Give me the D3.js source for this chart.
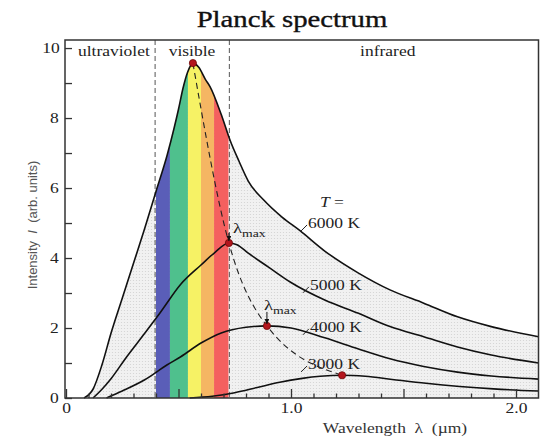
<!DOCTYPE html>
<html>
<head>
<meta charset="utf-8">
<script src="https://cdn.jsdelivr.net/npm/d3@7"></script>
<style>
  body { margin: 0; background: #fff; }
  svg text { font-family: "Liberation Serif", serif; }
  /* the reference text is drawn wide, so stretch serif text sideways */
  .sx { transform-box: fill-box; transform-origin: center; transform: scaleX(1.25); }
  .sxl { transform-box: fill-box; transform-origin: left center; transform: scaleX(1.25); }
</style>
</head>
<body>
<div id="chart"></div>
<script>
/* curves: wavelength (um) and intensity (arb. units) */
const lam6000 = [0.08, 0.12, 0.16, 0.20, 0.25, 0.30, 0.35, 0.40, 0.45, 0.48, 0.50, 0.52, 0.54, 0.564, 0.59, 0.62, 0.64, 0.69, 0.73, 0.77, 0.81, 0.88, 0.96, 1.04, 1.15, 1.30, 1.44, 1.59, 1.74, 1.89, 2.10];
const int6000 = [0, 0.25, 0.95, 1.85, 2.85, 3.85, 4.85, 5.9, 6.95, 7.7, 8.25, 8.85, 9.3, 9.57, 9.45, 9.1, 8.9, 8.1, 7.35, 6.75, 6.2, 5.65, 5.17, 4.78, 4.2, 3.57, 3.09, 2.71, 2.32, 2.04, 1.75];

const lam5000 = [0.12, 0.16, 0.20, 0.27, 0.35, 0.42, 0.51, 0.60, 0.66, 0.724, 0.76, 0.81, 0.90, 1.00, 1.15, 1.30, 1.44, 1.59, 1.74, 1.89, 2.10];
const int5000 = [0, 0.25, 0.55, 1.18, 1.85, 2.45, 3.25, 3.8, 4.15, 4.43, 4.38, 4.14, 3.74, 3.3, 2.8, 2.42, 2.04, 1.75, 1.46, 1.23, 1.0];

const lam4000 = [0.18, 0.25, 0.35, 0.45, 0.51, 0.60, 0.69, 0.80, 0.893, 1.00, 1.15, 1.30, 1.44, 1.59, 1.74, 1.89, 2.10];
const int4000 = [0, 0.2, 0.52, 0.95, 1.18, 1.57, 1.86, 2.02, 2.06, 2.0, 1.72, 1.4, 1.12, 0.9, 0.74, 0.63, 0.54];

const lam3000 = [0.55, 0.65, 0.75, 0.85, 0.95, 1.05, 1.13, 1.227, 1.33, 1.45, 1.60, 1.75, 1.90, 2.10];
const int3000 = [0, 0.05, 0.15, 0.3, 0.45, 0.56, 0.62, 0.65, 0.62, 0.53, 0.42, 0.33, 0.26, 0.2];

/* peak of each curve (lambda max) */
const peakLam = [0.564, 0.724, 0.893, 1.227];
const peakInt = [9.57, 4.43, 2.06, 0.65];

/* visible colour bands */
const bandStart = [0.40, 0.462, 0.542, 0.60, 0.658];
const bandEnd = [0.462, 0.542, 0.60, 0.658, 0.722];
const bandColors = ["#5a5eb8", "#4fc08d", "#f6f265", "#f5b663", "#f4605f"];

/* region dividers and names */
const dividers = [0.396, 0.726];
const regionNames = ["ultraviolet", "visible", "infrared"];
const regionCenters = [0.213, 0.56, 1.43];

/* curve labels */
const tempLabels = ["6000 K", "5000 K", "4000 K", "3000 K"];
const tempLabelLam = [1.076, 1.084, 1.084, 1.076];
const tempLabelInt = [4.86, 3.09, 1.89, 0.83];

/* ticks */
const xMajorTicks = [0, 0.5, 1.0, 1.5, 2.0];
const xMinorTicks = [0.1, 0.2, 0.3, 0.4, 0.6, 0.7, 0.8, 0.9, 1.1, 1.2, 1.3, 1.4, 1.6, 1.7, 1.8, 1.9];
const xTickLabels = ["0", "", "1.0", "", "2.0"];
const yTicks = [0, 1, 2, 3, 4, 5, 6, 7, 8, 9, 10];
const yTickLabels = ["0", "", "2", "", "4", "", "6", "", "8", "", "10"];

const width = 545;
const height = 438;

const svg = d3.select("#chart")
  .append("svg")
  .attr("width", width)
  .attr("height", height);

const x = d3.scaleLinear().domain([0, 2.1]).range([66, 538.5]);
const y = d3.scaleLinear().domain([0, 10.23]).range([398, 40]);

const zip = (a, b) => a.map((v, i) => [v, b[i]]);
const curves = [
  zip(lam6000, int6000),
  zip(lam5000, int5000),
  zip(lam4000, int4000),
  zip(lam3000, int3000)
];

const line = d3.line()
  .x(d => x(d[0]))
  .y(d => y(d[1]))
  .curve(d3.curveMonotoneX);

const area = d3.area()
  .x(d => x(d[0]))
  .y0(y(0))
  .y1(d => y(d[1]))
  .curve(d3.curveMonotoneX);

const defs = svg.append("defs");

// stippled grey under the hottest curve
const pat = defs.append("pattern")
  .attr("id", "stipple")
  .attr("width", 3)
  .attr("height", 3)
  .attr("patternUnits", "userSpaceOnUse");
pat.append("rect").attr("width", 3).attr("height", 3).attr("fill", "#f1f1f1");
pat.append("circle").attr("cx", 1.5).attr("cy", 1.5).attr("r", 0.6).attr("fill", "#d2d2d2");

defs.append("clipPath")
  .attr("id", "under6000")
  .append("path")
  .attr("d", area(curves[0]));

svg.append("path")
  .attr("d", area(curves[0]))
  .attr("fill", "url(#stipple)");

// region dividers
svg.selectAll(".divider")
  .data(dividers)
  .join("line")
    .attr("class", "divider")
    .attr("x1", d => x(d))
    .attr("x2", d => x(d))
    .attr("y1", y(10.23))
    .attr("y2", y(0))
    .attr("stroke", "#555")
    .attr("stroke-width", 1)
    .attr("stroke-dasharray", "5,3");

// colour bands, only under the 6000 K curve
svg.append("g")
  .attr("clip-path", "url(#under6000)")
  .selectAll("rect")
  .data(bandColors)
  .join("rect")
    .attr("x", (d, i) => x(bandStart[i]))
    .attr("width", (d, i) => x(bandEnd[i]) - x(bandStart[i]))
    .attr("y", y(10.23))
    .attr("height", y(0) - y(10.23))
    .attr("fill", d => d);

// curves
svg.selectAll(".curve")
  .data(curves)
  .join("path")
    .attr("class", "curve")
    .attr("d", line)
    .attr("fill", "none")
    .attr("stroke", "#111")
    .attr("stroke-width", 1.6);

// lambda max locus
svg.append("path")
  .attr("d", line(zip(peakLam, peakInt)))
  .attr("fill", "none")
  .attr("stroke", "#222")
  .attr("stroke-width", 1.1)
  .attr("stroke-dasharray", "6,4");

svg.selectAll(".peak")
  .data(peakLam)
  .join("circle")
    .attr("class", "peak")
    .attr("cx", d => x(d))
    .attr("cy", (d, i) => y(peakInt[i]))
    .attr("r", 3.6)
    .attr("fill", "#b3151d")
    .attr("stroke", "#6e0a0a")
    .attr("stroke-width", 0.8);

// frame
svg.append("rect")
  .attr("x", x(0) - 1)
  .attr("y", y(10.23))
  .attr("width", x(2.1) - x(0) + 1)
  .attr("height", y(0) - y(10.23))
  .attr("fill", "none")
  .attr("stroke", "#333")
  .attr("stroke-width", 1.5);

// axes with inward ticks
const xAxisMajor = svg.append("g")
  .attr("transform", `translate(0,${y(0)})`)
  .call(d3.axisBottom(x)
    .tickValues(xMajorTicks)
    .tickSize(-9)
    .tickPadding(5)
    .tickFormat((d, i) => xTickLabels[i]));

const xAxisMinor = svg.append("g")
  .attr("transform", `translate(0,${y(0)})`)
  .call(d3.axisBottom(x)
    .tickValues(xMinorTicks)
    .tickSize(-4.5)
    .tickFormat(""));

const yAxis = svg.append("g")
  .attr("transform", `translate(${x(0) - 1},0)`)
  .call(d3.axisLeft(y)
    .tickValues(yTicks)
    .tickSize(-7)
    .tickPadding(7)
    .tickFormat((d, i) => yTickLabels[i]));

[xAxisMajor, xAxisMinor, yAxis].forEach(g => {
  g.select(".domain").remove();
  g.selectAll("line").attr("stroke", "#333").attr("stroke-width", 1.3);
  g.attr("font-family", null).attr("font-size", 14);
  g.selectAll("text").attr("class", "sx").attr("fill", "#222");
});

// title
svg.append("text")
  .attr("class", "sx")
  .attr("x", 292)
  .attr("y", 27)
  .attr("text-anchor", "middle")
  .attr("font-size", 23)
  .attr("fill", "#111")
  .attr("stroke", "#111")
  .attr("stroke-width", 0.35)
  .text("Planck spectrum");

// region names
svg.selectAll(".region")
  .data(regionNames)
  .join("text")
    .attr("class", "region sx")
    .attr("x", (d, i) => x(regionCenters[i]))
    .attr("y", 56)
    .attr("text-anchor", "middle")
    .attr("font-size", 14)
    .attr("fill", "#222")
    .text(d => d);

// temperature labels with small leaders
svg.append("text")
  .attr("class", "sxl")
  .attr("x", x(1.129))
  .attr("y", y(5.46))
  .attr("font-size", 14)
  .attr("fill", "#222")
  .html('<tspan font-style="italic">T</tspan> =');

svg.selectAll(".tlabel")
  .data(tempLabels)
  .join("text")
    .attr("class", "tlabel sxl")
    .attr("x", (d, i) => x(tempLabelLam[i]))
    .attr("y", (d, i) => y(tempLabelInt[i]))
    .attr("font-size", 14)
    .attr("fill", "#222")
    .text(d => d);

svg.selectAll(".leader")
  .data(tempLabels)
  .join("line")
    .attr("class", "leader")
    .attr("x1", (d, i) => x(tempLabelLam[i]) - 7)
    .attr("y1", (d, i) => y(tempLabelInt[i]) + 3)
    .attr("x2", (d, i) => x(tempLabelLam[i]) - 1)
    .attr("y2", (d, i) => y(tempLabelInt[i]) - 3)
    .attr("stroke", "#222")
    .attr("stroke-width", 1);

// lambda max markers on the 5000 K and 4000 K peaks
defs.append("marker")
  .attr("id", "head")
  .attr("viewBox", "0 0 10 10")
  .attr("refX", 10)
  .attr("refY", 5)
  .attr("markerWidth", 5)
  .attr("markerHeight", 5)
  .attr("orient", "auto")
  .append("path")
  .attr("d", "M0,0L10,5L0,10Z")
  .attr("fill", "#111");

const lmaxIdx = [1, 2];
const lmaxDx = [4, -3];
const lmaxDy = [-10, -16];
const arrowTop = [-10, -14];

lmaxIdx.forEach((k, j) => {
  const px = x(peakLam[k]);
  const py = y(peakInt[k]);
  svg.append("line")
    .attr("x1", px)
    .attr("x2", px)
    .attr("y1", py + arrowTop[j])
    .attr("y2", py - 2)
    .attr("stroke", "#111")
    .attr("stroke-width", 1)
    .attr("marker-end", "url(#head)");
  svg.append("text")
    .attr("class", "sxl")
    .attr("x", px + lmaxDx[j])
    .attr("y", py + lmaxDy[j])
    .attr("font-size", 15)
    .attr("fill", "#222")
    .html('λ<tspan font-size="11" dy="4">max</tspan>');
});

// axis titles
svg.append("text")
  .attr("class", "sx")
  .attr("x", 395)
  .attr("y", 433)
  .attr("text-anchor", "middle")
  .attr("font-size", 14)
  .attr("fill", "#333")
  .attr("xml:space", "preserve")
  .text("Wavelength  λ  (µm)");

svg.append("text")
  .attr("transform", "translate(37,225) rotate(-90)")
  .attr("text-anchor", "middle")
  .style("font-family", "'Liberation Sans', Arial, sans-serif")
  .attr("font-size", 13)
  .attr("fill", "#555")
  .attr("xml:space", "preserve")
  .html('Intensity  <tspan font-style="italic">I</tspan>  (arb. units)');
</script>
</body>
</html>
